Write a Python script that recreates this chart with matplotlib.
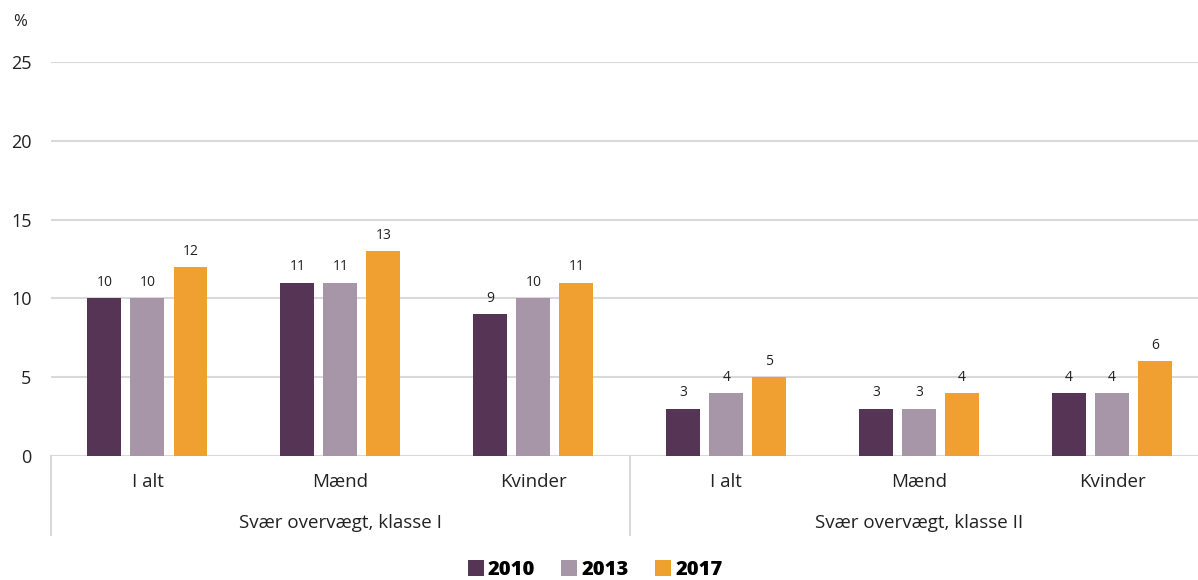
import matplotlib.pyplot as plt
import numpy as np

# data
years = ['2010', '2013', '2017']
groups = ['Svær overvægt, klasse I', 'Svær overvægt, klasse II']
subcats = ['I alt', 'Mænd', 'Kvinder']
v2010 = [10, 11, 9, 3, 3, 4]
v2013 = [10, 11, 10, 4, 3, 4]
v2017 = [12, 13, 11, 5, 4, 6]
colors = ['#563455', '#a795a8', '#f0a030']

plt.rcParams['font.family'] = ['Open Sans', 'DejaVu Sans']

fig = plt.figure(figsize=(11.98, 5.8), dpi=100)
W, H = 1198, 580
ax = fig.add_axes([51 / W, 1 - 456 / H, (1208.5 - 51) / W, (456 - 62) / H])

x = np.arange(len(v2010))
bw = 0.176
step = 0.223
for k, (vals, c, lab) in enumerate(zip([v2010, v2013, v2017], colors, years)):
    bars = ax.bar(x + (k - 1) * step, vals, width=bw, color=c, label=lab, zorder=3)
    ax.bar_label(bars, padding=6, fontsize=10, color='#222222')

ax.set_xlim(-0.5, 5.5)
ax.set_ylim(0, 25)
ax.set_yticks(range(0, 26, 5))
ax.yaxis.grid(True, color='#d9d9d9', linewidth=1.5, zorder=0)
ax.set_axisbelow(True)
for s in ax.spines.values():
    s.set_visible(False)
ax.tick_params(axis='y', length=0, pad=14, labelsize=13, labelcolor='#222222')
ax.tick_params(axis='x', length=0, pad=0, labelbottom=False)

# two-level category axis
trans = ax.get_xaxis_transform()
for i, name in enumerate(subcats * 2):
    ax.text(i, -0.065, name, transform=trans, ha='center', va='center',
            fontsize=13.5, color='#222222')
for g, name in enumerate(groups):
    ax.text(g * 3 + 1, -0.17, name, transform=trans, ha='center', va='center',
            fontsize=13.5, color='#222222')
for xs in [-0.5, 2.5, 5.5]:
    ax.plot([xs, xs], [0, -0.2], transform=trans, color='#d9d9d9',
            linewidth=1.5, clip_on=False)

fig.text(20 / W, 1 - 22 / H, '%', ha='center', va='center', fontsize=12, color='#222222')

leg = fig.legend(loc='center', bbox_to_anchor=(595 / W, 1 - 570 / H), ncol=3,
                 frameon=False, handlelength=0.8, handleheight=0.8,
                 handletextpad=0.2, columnspacing=1.3,
                 prop={'weight': 'heavy', 'size': 14.5})

fig.savefig('out.png', dpi=100)
